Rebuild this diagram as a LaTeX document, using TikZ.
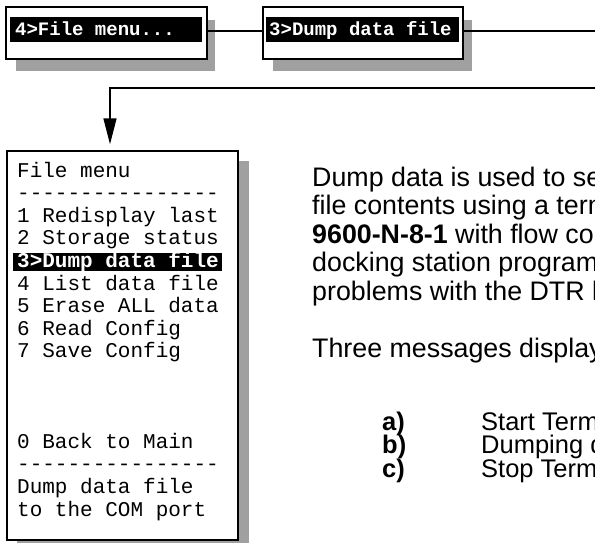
\documentclass[tikz,border=0pt]{standalone}
\usepackage{fontspec}
\setmainfont{Liberation Sans}
\newfontfamily\monofont{Liberation Mono}
\usetikzlibrary{arrows.meta}
\definecolor{shadowgray}{HTML}{A0A0A0}
\begin{document}
\begin{tikzpicture}[x=1pt,y=-1pt,
  box/.style={draw=black, line width=1.5pt, fill=white, inner sep=0pt},
  conn/.style={draw=black, line width=1.5pt},
  shadowfill/.style={fill=shadowgray},
  barfill/.style={fill=black},
  menutext/.style={anchor=base west, inner sep=0pt, font=\monofont\fontsize{21}{22.6}\selectfont},
  hltext/.style={anchor=base west, inner sep=0pt, text=white, font=\monofont\bfseries\fontsize{21}{22.6}\selectfont},
  toptext/.style={anchor=base west, inner sep=0pt, text=white, font=\monofont\bfseries\fontsize{19}{21}\selectfont},
  body/.style={anchor=base west, inner sep=0pt, font=\fontsize{26.8}{28.5}\selectfont},
  listtext/.style={anchor=base west, inner sep=0pt, font=\fontsize{25.5}{23.5}\selectfont}]
\useasboundingbox (0,0) rectangle (595,542);
\clip (0,0) rectangle (595,542);
% shadows
\path[shadowfill] (16,20) rectangle (215,71);
\path[shadowfill] (273,20) rectangle (472,71);
\path[shadowfill] (17,161) rectangle (249,560);
% top boxes
\node[box, minimum width=201pt, minimum height=52pt] (b1) at (106.5,33) {};
\node[box, minimum width=200pt, minimum height=52pt] (b2) at (363,33) {};
\path[barfill] (10,17) rectangle (202,42);
\path[barfill] (266,17) rectangle (459,42);
\node[toptext] (t1) at (15,35) {4>File menu...};
\node[toptext] (t2) at (269,35) {3>Dump data file};
% connectors
\coordinate (j1) at (0,31);
\coordinate (eA) at (600,31);
\coordinate (eB) at (600,88);
\coordinate (turn) at (110,88);
\draw[conn] (b1.east |- j1) -- (b2.west |- j1);
\draw[conn] (b2.east |- j1) -- (eA);
% menu box
\node[box, minimum width=231pt, minimum height=389pt] (menu) at (122.5,345.5) {};
\draw[conn, -{Triangle[length=26pt,width=13pt]}, shorten >=6pt] (eB) -- (turn) -- (turn |- menu.north);
\path[barfill] (13,253) rectangle (222,271);
\node[menutext] (m0) at (17,177) {File menu};
\node[menutext] (m1) at (17,199.6) {----------------};
\node[menutext] (m2) at (17,222.2) {1 Redisplay last};
\node[menutext] (m3) at (17,244.8) {2 Storage status};
\node[hltext] (m4) at (17,267.4) {3>Dump data file};
\node[menutext] (m5) at (17,290) {4 List data file};
\node[menutext] (m6) at (17,312.6) {5 Erase ALL data};
\node[menutext] (m7) at (17,335.2) {6 Read Config};
\node[menutext] (m8) at (17,357.8) {7 Save Config};
\node[menutext] (m9) at (17,448.2) {0 Back to Main};
\node[menutext] (m10) at (17,470.8) {----------------};
\node[menutext] (m11) at (17,493.4) {Dump data file};
\node[menutext] (m12) at (17,516) {to the COM port};
% description
\node[body] (p1) at (312,186) {Dump data is used to se};
\node[body] (p2) at (312,214.5) {file contents using a term};
\node[body] (p3) at (312,243) {\textbf{9600-N-8-1} with flow con};
\node[body] (p4) at (312,271.5) {docking station program};
\node[body] (p5) at (312,300) {problems with the DTR li};
\node[body] (p6) at (312,357) {Three messages display};
\node[listtext] (la) at (382,430) {\textbf{a)}};
\node[listtext] (ta) at (481,430) {Start Term};
\node[listtext] (lb) at (382,453.5) {\textbf{b)}};
\node[listtext] (tb) at (481,453.5) {Dumping d};
\node[listtext] (lc) at (382,477) {\textbf{c)}};
\node[listtext] (tc) at (481,477) {Stop Term};
\end{tikzpicture}
\end{document}
